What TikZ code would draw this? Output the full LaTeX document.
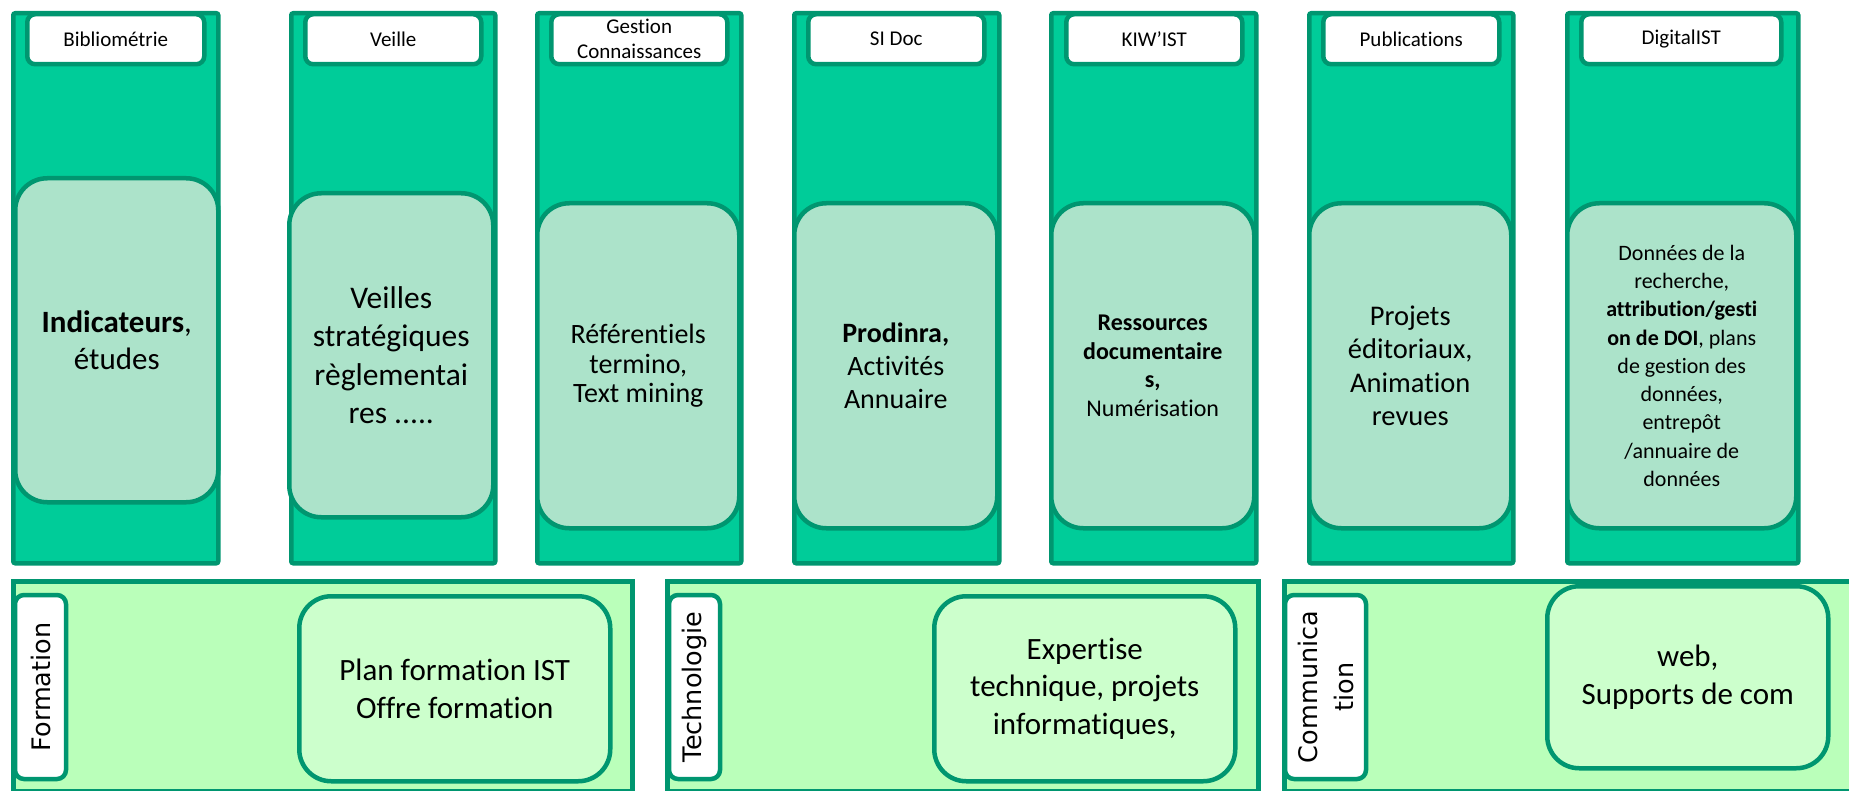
\documentclass[tikz,border=0pt]{standalone}
\usepackage{fontspec}
\setmainfont{Carlito}[Ligatures=NoCommon]
\newfontfamily\lblfont{DejaVu Sans}
\definecolor{colG}{RGB}{0,204,153}
\definecolor{dkG}{RGB}{0,150,112}
\definecolor{mint}{RGB}{172,227,202}
\definecolor{rowG}{RGB}{186,255,186}
\definecolor{subG}{RGB}{204,255,204}
\begin{document}
\begin{tikzpicture}[x=1pt,y=-1pt,
  colbox/.style={draw=dkG,fill=colG,line width=4.5pt,rounded corners=2pt,anchor=north west,inner sep=0pt,minimum height=550pt},
  hdr/.style={draw=dkG,fill=white,line width=4.5pt,rounded corners=8pt,anchor=north west,inner sep=0pt,minimum height=50pt,align=center,font=\fontsize{21}{25}\selectfont},
  inbox/.style={draw=dkG,fill=mint,line width=4.5pt,rounded corners=32pt,anchor=north west,inner sep=0pt,align=center},
  rowbox/.style={draw=dkG,fill=rowG,line width=4.5pt,anchor=north west,inner sep=0pt,minimum height=210pt},
  lblbox/.style={draw=dkG,fill=white,line width=4.5pt,rounded corners=9pt,rotate=90,inner sep=0pt,minimum width=184pt,align=center,font=\lblfont\fontsize{25.5}{36}\selectfont},
  subbox/.style={draw=dkG,fill=subG,line width=4.5pt,rounded corners=32pt,anchor=north west,inner sep=0pt,align=center,font=\fontsize{31}{37.5}\selectfont}
]
\useasboundingbox (0,0) rectangle (1849,791);
\clip (0,0) rectangle (1849,791);

% columns
\node[colbox,minimum width=205pt] (c1) at (11,11) {};
\node[colbox,minimum width=204pt] (c2) at (289,11) {};
\node[colbox,minimum width=204pt] (c3) at (535,11) {};
\node[colbox,minimum width=205pt] (c4) at (792,11) {};
\node[colbox,minimum width=205pt] (c5) at (1049,11) {};
\node[colbox,minimum width=204pt] (c6) at (1307,11) {};
\node[colbox,minimum width=231pt] (c7) at (1565,11) {};

% headers
\node[hdr,minimum width=177pt] (h1) at (25,12) {Bibliométrie};
\node[hdr,minimum width=176pt] (h2) at (303,12) {Veille};
\node[hdr,minimum width=176pt] (h3) at (549,12) {Gestion\\Connaissances};
\node[hdr,minimum width=176pt] (h4) at (806,12) {SI Doc};
\node[hdr,minimum width=176pt] (h5) at (1064,12) {KIW’IST};
\node[hdr,minimum width=176pt] (h6) at (1321,12) {Publications};
\node[hdr,minimum width=200pt] (h7) at (1579,12) {DigitalIST};

% inner boxes
\node[inbox,minimum width=203pt,minimum height=324pt,font=\fontsize{31}{37}\selectfont] (i1) at (13,176)
  {\textbf{Indicateurs},\\études};
\node[inbox,minimum width=204pt,minimum height=324pt,font=\fontsize{31.5}{38.5}\selectfont] (i2) at (287,191)
  {Veilles\\stratégiques\\règlementai\\res .....};
\node[inbox,minimum width=202pt,minimum height=325pt,font=\fontsize{28}{29.5}\selectfont] (i3) at (535,201)
  {Référentiels\\termino,\\Text mining};
\node[inbox,minimum width=203pt,minimum height=325pt,font=\fontsize{28}{33}\selectfont] (i4) at (792,201)
  {\textbf{Prodinra,}\\Activités\\Annuaire};
\node[inbox,minimum width=203pt,minimum height=325pt,font=\fontsize{24}{28.5}\selectfont] (i5) at (1049,201)
  {\textbf{Ressources}\\\textbf{documentaire}\\\textbf{s,}\\Numérisation};
\node[inbox,minimum width=202pt,minimum height=325pt,font=\fontsize{28.5}{33.4}\selectfont] (i6) at (1307,201)
  {Projets\\éditoriaux,\\Animation\\revues};
\node[inbox,minimum width=229pt,minimum height=325pt,font=\fontsize{22}{28.3}\selectfont] (i7) at (1565,201)
  {Données de la\\recherche,\\\textbf{attribution/gesti}\\\textbf{on de DOI}, plans\\de gestion des\\données,\\entrepôt\\/annuaire de\\données};

% bottom rows
\node[rowbox,minimum width=619pt] (r1) at (11,579) {};
\node[rowbox,minimum width=591pt] (r2) at (665,579) {};
\node[rowbox,minimum width=600pt] (r3) at (1282,579) {};

% labels
\node[lblbox,minimum height=51pt] (l1) at (40.5,687) {Formation};
\node[lblbox,minimum height=51pt] (l2) at (694.5,687) {Technologie};
\node[lblbox,minimum height=81pt] (l3) at (1325.5,687) {Communica\\tion};

% sub boxes
\node[subbox,minimum width=311pt,minimum height=185pt] (s1) at (297,594)
  {Plan formation IST\\Offre formation};
\node[subbox,minimum width=301pt,minimum height=185pt] (s2) at (932,594)
  {Expertise\\technique, projets\\informatiques,};
\node[subbox,minimum width=281pt,minimum height=182pt] (s3) at (1545,584)
  {web,\\Supports de com};
\end{tikzpicture}
\end{document}
